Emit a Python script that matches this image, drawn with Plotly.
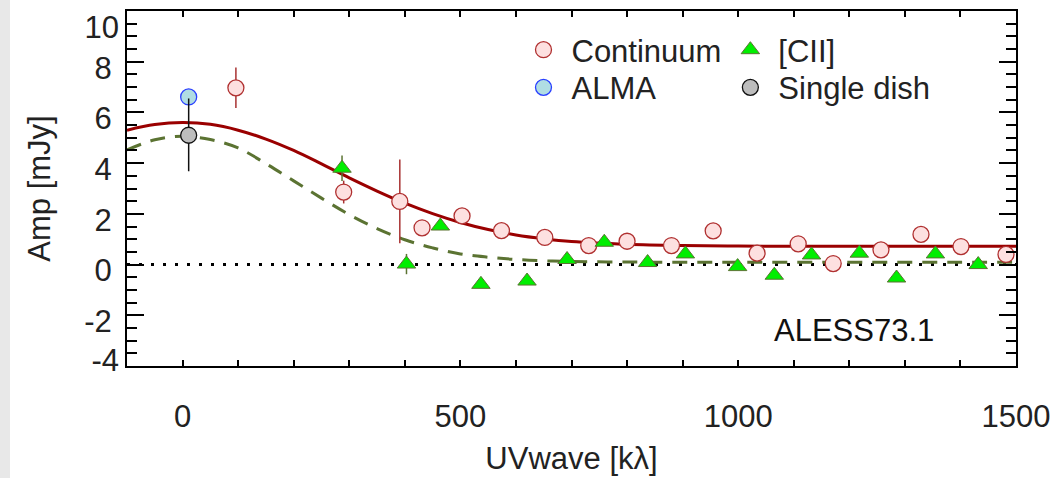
import plotly.graph_objects as go

# ---------------- data ----------------
cont_x = [96, 290, 391, 431, 503, 574, 652, 731, 800, 880, 955, 1034, 1108, 1171, 1257, 1329, 1401, 1482]
cont_y = [6.97, 2.86, 2.49, 1.45, 1.92, 1.34, 1.07, 0.75, 0.92, 0.75, 1.33, 0.45, 0.82, 0.04, 0.58, 1.19, 0.71, 0.40]
cont_err = [0.8, 0.45, 1.65, 0, 0, 0, 0, 0, 0, 0, 0, 0, 0, 0, 0, 0, 0, 0]

cii_x = [287, 403, 464, 537, 620, 692, 759, 837, 905, 999, 1065, 1132, 1218, 1285, 1355, 1432]
cii_y = [3.80, 0.02, 1.52, -0.78, -0.65, 0.20, 0.88, 0.08, 0.42, -0.08, -0.42, 0.38, 0.45, -0.53, 0.42, 0.0]
cii_err = [0.5, 0.4, 0, 0, 0, 0, 0, 0, 0, 0, 0, 0, 0, 0, 0, 0]

alma_x = [11]
alma_y = [6.61]

sd_x = [11]
sd_y = [5.10]
sd_err_plus = [1.45]
sd_err_minus = [1.42]

# model curves
model_x = [-100, -50, 0, 50, 100, 150, 200, 250, 300, 350, 400, 450, 500, 550, 600,
           650, 700, 800, 900, 1000, 1100, 1200, 1300, 1400, 1500]
cont_model = [5.30, 5.52, 5.60, 5.53, 5.30, 4.95, 4.50, 3.97, 3.42, 2.90, 2.42, 2.01, 1.66, 1.38, 1.17,
              1.02, 0.91, 0.80, 0.75, 0.73, 0.72, 0.72, 0.72, 0.72, 0.72]
cii_model = [4.52, 4.92, 5.06, 4.93, 4.60, 3.98, 3.30, 2.62, 1.97, 1.42, 0.98, 0.66, 0.42, 0.29, 0.20,
             0.15, 0.12, 0.10, 0.09, 0.09, 0.09, 0.09, 0.09, 0.09, 0.09]

x_ticks = [0, 500, 1000, 1500]
y_ticks_mid = [-2, 0, 2, 4, 6, 8]
y_labels_mid = ["-2", "0", "2", "4", "6", "8"]
y_tick_top, y_label_top = [10], ["10"]
y_tick_bot, y_label_bot = [-4], ["-4"]
y_all_ticks = [-4, -2, 0, 2, 4, 6, 8, 10]

FONT = "Liberation Sans, Arial, Helvetica, sans-serif"
TXT = "#222222"
FS = 31
Y_RANGE = [-4, 10]

fig = go.Figure()

# model lines
fig.add_trace(go.Scatter(x=model_x, y=cii_model, mode="lines", line_shape="spline",
                         line=dict(color="#5b7332", width=3, dash="15px,10px"),
                         showlegend=False, hoverinfo="skip"))
fig.add_trace(go.Scatter(x=model_x, y=cont_model, mode="lines", line_shape="spline",
                         line=dict(color="#9a0000", width=3),
                         showlegend=False, hoverinfo="skip"))

# data
fig.add_trace(go.Scatter(x=cont_x, y=cont_y, mode="markers", name="Continuum",
                         error_y=dict(type="data", array=cont_err, width=0, thickness=1.5, color="#a83232"),
                         marker=dict(symbol="circle", size=16, color="#fde0e0",
                                     line=dict(color="#b03030", width=1.3)),
                         legend="legend"))
fig.add_trace(go.Scatter(x=alma_x, y=alma_y, mode="markers", name="ALMA",
                         marker=dict(symbol="circle", size=16, color="#b0dde3",
                                     line=dict(color="#2a40ff", width=1.3)),
                         legend="legend2"))
fig.add_trace(go.Scatter(x=sd_x, y=sd_y, mode="markers", name="Single dish",
                         error_y=dict(type="data", symmetric=False, array=sd_err_plus,
                                      arrayminus=sd_err_minus, width=0, thickness=1.5, color="#111111"),
                         marker=dict(symbol="circle", size=16, color="#bdbdbd",
                                     line=dict(color="#111111", width=1.3)),
                         legend="legend4"))
fig.add_trace(go.Scatter(x=cii_x, y=cii_y, mode="markers", name="[CII]",
                         error_y=dict(type="data", array=cii_err, width=0, thickness=1.5, color="#5b7332"),
                         marker=dict(symbol="triangle-up", size=16, color="#00ee00",
                                     line=dict(color="#5b7332", width=1)),
                         legend="legend3"))

# empty carriers so the two label-only y axes get drawn
for ax in ("y2", "y3"):
    fig.add_trace(go.Scatter(x=[], y=[], yaxis=ax, showlegend=False, hoverinfo="skip"))

def leg(x, y):
    return dict(x=x, y=y, xanchor="left", yanchor="middle", bgcolor="rgba(0,0,0,0)",
                font=dict(family=FONT, size=FS, color=TXT), itemwidth=46,
                borderwidth=0, tracegroupgap=0)

axis_common = dict(showline=True, linecolor="black", linewidth=2, mirror="allticks",
                   ticks="inside", tickcolor="black", tickwidth=2, showgrid=False, zeroline=False,
                   automargin=False, ticklabeloverflow="allow",
                   tickfont=dict(family=FONT, size=FS, color=TXT))

def label_axis(vals, texts, shift):
    # extra overlaying y axis that only carries the edge tick labels
    return dict(overlaying="y", side="left", range=Y_RANGE, tickmode="array",
                tickvals=vals, ticktext=texts, ticks="", showline=False, showgrid=False,
                zeroline=False, automargin=False, ticklabeloverflow="allow",
                ticklabelstandoff=7, ticklabelshift=shift,
                tickfont=dict(family=FONT, size=FS, color=TXT))

fig.update_layout(
    width=1053, height=478,
    margin=dict(l=127, r=37, t=11, b=112, autoexpand=False),
    paper_bgcolor="white", plot_bgcolor="white",
    font=dict(family=FONT, size=FS, color=TXT),
    xaxis=dict(range=[-100, 1500], tickvals=x_ticks, ticklen=6,
               minor=dict(dtick=100, tick0=0, ticklen=3, tickwidth=2, ticks="inside", tickcolor="black"),
               ticklabelstandoff=22,
               title=dict(text="UVwave [kλ]", standoff=14, font=dict(family=FONT, size=FS, color=TXT)),
               **axis_common),
    yaxis=dict(range=Y_RANGE, tickmode="array", tickvals=y_all_ticks,
               ticktext=["", *y_labels_mid, ""], ticklen=17,
               minor=dict(dtick=0.5, tick0=0, ticklen=10, tickwidth=2, ticks="inside", tickcolor="black"),
               ticklabelstandoff=7, ticklabelshift=6,
               title=dict(text="Amp [mJy]", standoff=24, font=dict(family=FONT, size=FS, color=TXT)),
               **axis_common),
    yaxis2=label_axis(y_tick_top, y_label_top, 16),
    yaxis3=label_axis(y_tick_bot, y_label_bot, -6),
    legend=leg(0.4370, 0.890),
    legend2=leg(0.4370, 0.784),
    legend3=leg(0.6697, 0.890),
    legend4=leg(0.6697, 0.784),
    shapes=[
        dict(type="line", xref="paper", yref="y", x0=0, x1=1, y0=0, y1=0, layer="below",
             line=dict(color="black", width=3, dash="3px,9px")),
        dict(type="rect", xref="paper", yref="paper", x0=-0.1429, x1=-0.1316, y0=-0.32, y1=1.04,
             fillcolor="#e8e8e8", line=dict(width=0), layer="below"),
    ],
    annotations=[
        dict(text="ALESS73.1", x=1209, y=-2.6, xref="x", yref="y", xanchor="center", yanchor="middle",
             showarrow=False, font=dict(family=FONT, size=FS, color="#111111")),
    ],
)

fig.write_html("out.html")
